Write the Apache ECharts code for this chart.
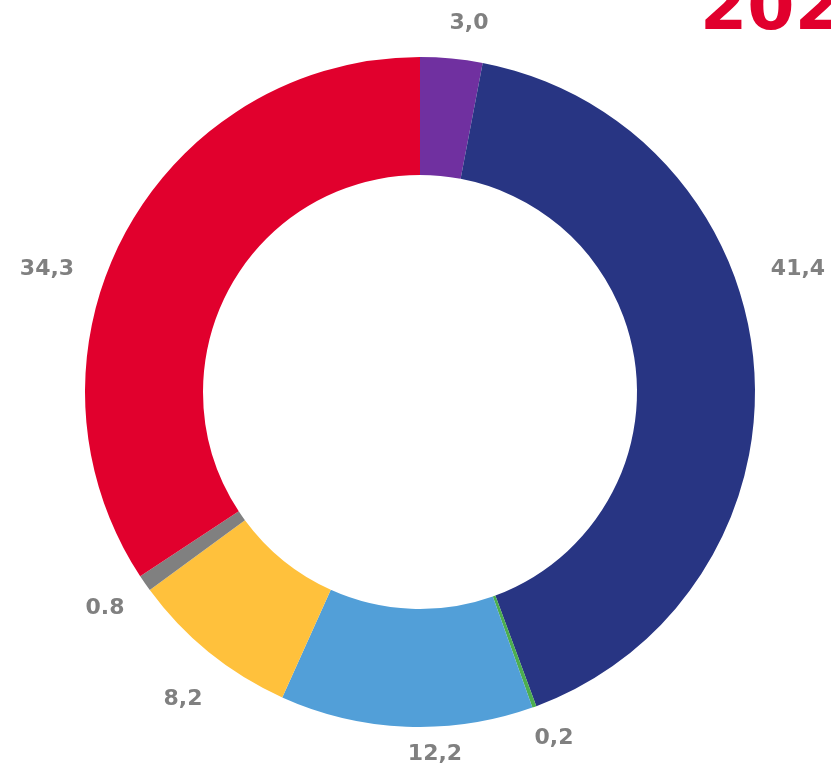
<!DOCTYPE html>
<html>
<head>
<meta charset="utf-8">
<script src="https://cdn.jsdelivr.net/npm/echarts@6/dist/echarts.min.js"></script>
<style>
    html, body { margin: 0; padding: 0; background: #fff; }
    #main { width: 831px; height: 770px; }
</style>
</head>
<body>
<div id="main"></div>
<script>
// slices, clockwise from 12 o'clock
var sliceValues = [3.0, 41.4, 0.2, 12.2, 8.2, 0.8, 34.3];
var sliceLabels = ['3,0', '41,4', '0,2', '12,2', '8,2', '0.8', '34,3'];
var sliceColors = ['#7030a0', '#283583', '#4cae4f', '#529fd8', '#ffc13c', '#808080', '#e1002d'];
var titleText = '2024';

// where each value label sits (centre of the text)
var labelPos = [[469, 23], [798, 269], [554, 738], [435, 754], [183, 699], [105, 608], [47, 269]];

var chart = echarts.init(document.getElementById('main'));

chart.setOption({
    animation: false,
    title: {
        text: titleText,
        left: 695,
        top: -28,
        textStyle: {
            color: '#e1002d',
            fontSize: 68,
            fontWeight: 'bold',
            fontFamily: 'DejaVu Sans, sans-serif'
        }
    },
    series: [{
        type: 'pie',
        center: [420, 392],
        radius: [217, 335],
        startAngle: 90,
        clockwise: true,
        avoidLabelOverlap: false,
        itemStyle: { borderWidth: 0 },
        label: {
            show: true,
            position: 'outside',
            formatter: function (p) {
                return sliceLabels[p.dataIndex];
            },
            color: '#808080',
            fontSize: 22,
            fontWeight: 'bold',
            fontFamily: 'DejaVu Sans, sans-serif'
        },
        labelLine: { show: false },
        labelLayout: function (params) {
            var pos = labelPos[params.dataIndex];
            return {
                x: pos[0],
                y: pos[1],
                align: 'center',
                verticalAlign: 'middle'
            };
        },
        emphasis: { disabled: true },
        data: sliceValues.map(function (v, i) {
            return {
                value: v,
                name: sliceLabels[i],
                itemStyle: { color: sliceColors[i] }
            };
        })
    }]
});
</script>
</body>
</html>
